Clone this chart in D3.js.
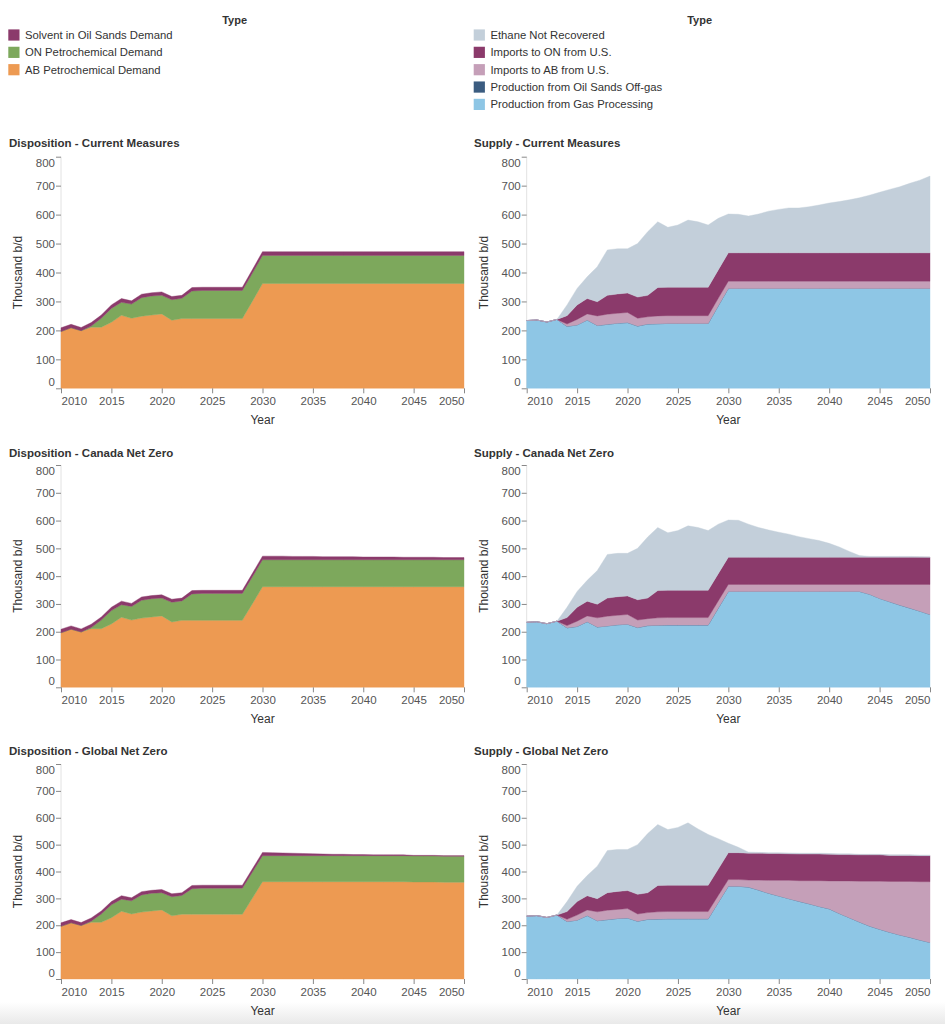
<!DOCTYPE html>
<html><head><meta charset="utf-8">
<script src="https://cdn.jsdelivr.net/npm/d3@7"></script>
<style>body{margin:0;background:#fff;font-family:"Liberation Sans",Arial,Helvetica,sans-serif}</style>
</head><body><svg id="c" width="945" height="1024"></svg>
<script>
// ---------- DATA ----------
const years = [2010,2011,2012,2013,2014,2015,2016,2017,2018,2019,2020,2021,2022,2023,2024,2025,2026,2027,2028,2029,2030,
  2031,2032,2033,2034,2035,2036,2037,2038,2039,2040,2041,2042,2043,2044,2045,2046,2047,2048,2049,2050];

const dispositionTypes = ["Solvent in Oil Sands Demand","ON Petrochemical Demand","AB Petrochemical Demand"];
const supplyTypes = ["Ethane Not Recovered","Imports to ON from U.S.","Imports to AB from U.S.","Production from Oil Sands Off-gas","Production from Gas Processing"];
const dispositionColors = ["#8b3a6b","#7da85c","#ed9a52"];
const supplyColors = ["#c3cfda","#8b3a6b","#c59fb8","#3b5c80","#8ec6e5"];
const xTicks = [2010,2015,2020,2025,2030,2035,2040,2045,2050];
const yTicks = [0,100,200,300,400,500,600,700,800];
const scenarios = ["Current Measures","Canada Net Zero","Global Net Zero"];

// Disposition - Current Measures
const dispCM_AB   = [196,209,199,211,211,228,252,242,249,253,257,235,241,241,241,241,241,241,241,301,362,362,362,362,362,362,362,362,362,362,362,362,362,362,362,362,362,362,362,362,362];
const dispCM_ON   = [0,0,0,4,31,48,45,49,64,66,64,71,70,95,97,97,97,97,97,97,97,97,97,97,97,97,97,97,97,97,97,97,97,97,97,97,97,97,97,97,97];
const dispCM_Solv = [13,12,11,12,11,12,13,11,12,11,12,11,10,12,11,11,11,11,11,12,13,13,13,13,13,13,13,13,13,13,13,13,13,13,13,13,13,13,13,13,13];
// Disposition - Canada Net Zero
const dispCNZ_AB   = [196,209,199,211,211,228,252,242,249,253,257,235,241,241,241,241,241,241,241,301,362,362,362,362,362,362,362,362,362,362,362,362,362,362,362,362,362,362,362,362,362];
const dispCNZ_ON   = [0,0,0,4,31,48,45,49,64,66,64,71,70,95,97,97,97,97,97,97,97,97,97,97,97,97,97,97,97,97,97,97,97,97,97,97,97,97,97,97,97];
const dispCNZ_Solv = [13,12,11,12,11,12,13,11,12,11,12,11,10,12,11,11,11,11,11,12,13,13,13,12,12,12,11,11,11,11,10,10,10,10,9,9,9,9,8,8,8];
// Disposition - Global Net Zero
const dispGNZ_AB   = [196,209,199,211,211,228,252,242,249,253,257,235,241,241,241,241,241,241,241,301,362,362,362,362,362,362,362,362,362,362,362,362,362,362,362,361,361,361,360,360,360];
const dispGNZ_ON   = [0,0,0,4,31,48,45,49,64,66,64,71,70,95,97,97,97,97,97,97,97,97,97,97,97,97,97,97,97,97,97,97,97,97,97,97,97,97,97,97,97];
const dispGNZ_Solv = [13,12,11,12,11,12,13,11,12,11,12,11,10,12,11,11,11,11,11,12,12,11,10,9,8,7,6,5,5,4,4,3,3,3,3,2,2,2,2,2,2];

// Supply - Current Measures
const supCM_GP  = [234,236,229,238,214,219,236,217,221,225,227,215,222,223,224,224,224,224,224,285,345,345,345,345,345,345,345,345,345,345,345,345,345,345,345,345,345,345,345,345,345];
const supCM_OSG = [0,0,0,0,0,0,0,0,0,0,0,0,0,0,0,0,0,0,0,0,0,0,0,0,0,0,0,0,0,0,0,0,0,0,0,0,0,0,0,0,0];
const supCM_AB  = [0,0,0,0,8,19,21,33,35,34,35,27,25,27,27,27,27,27,27,26,25,25,25,25,25,25,25,25,25,25,25,25,25,25,25,25,25,25,25,25,25];
const supCM_ON  = [0,0,0,0,29,50,53,49,65,67,67,73,74,98,98,98,98,98,98,98,98,98,98,98,98,98,98,98,98,98,98,98,98,98,98,98,98,98,98,98,98];
const supCM_NR  = [0,0,0,0,37,57,75,121,157,156,153,185,220,227,207,215,232,226,215,178,134,133,127,134,144,150,155,155,159,165,172,177,183,190,199,209,219,228,240,251,265];
// Supply - Canada Net Zero
const supCNZ_GP  = [234,236,229,238,214,219,236,217,221,225,227,215,222,223,224,224,224,224,224,285,345,345,345,345,345,345,345,345,345,345,345,345,345,345,335,320,308,296,285,274,262];
const supCNZ_OSG = [0,0,0,0,0,0,0,0,0,0,0,0,0,0,0,0,0,0,0,0,0,0,0,0,0,0,0,0,0,0,0,0,0,0,0,0,0,0,0,0,0];
const supCNZ_AB  = [0,0,0,0,8,19,21,33,35,34,35,27,25,27,27,27,27,27,27,26,25,25,25,25,25,25,25,25,25,25,25,25,25,25,35,50,62,74,85,96,108];
const supCNZ_ON  = [0,0,0,0,29,50,53,49,65,67,67,73,74,98,98,98,98,98,98,98,98,98,98,98,98,98,98,98,98,98,98,98,98,98,98,98,98,98,98,98,98];
const supCNZ_NR  = [0,0,0,0,37,57,75,121,157,156,153,185,220,227,207,215,232,226,215,178,134,133,119,107,98,90,83,74,67,60,50,37,21,6,3,3,3,3,3,2,1];
// Supply - Global Net Zero
const supGNZ_GP  = [234,236,229,238,214,219,236,217,221,225,227,215,222,223,224,224,224,224,224,285,345,345,342,331,319,309,299,289,280,270,261,244,228,212,197,185,174,164,155,145,136];
const supGNZ_OSG = [0,0,0,0,0,0,0,0,0,0,0,0,0,0,0,0,0,0,0,0,0,0,0,0,0,0,0,0,0,0,0,0,0,0,0,0,0,0,0,0,0];
const supGNZ_AB  = [0,0,0,0,8,19,21,33,35,34,35,27,25,27,27,27,27,27,27,26,25,25,26,37,48,58,68,77,86,96,104,121,137,152,167,179,189,199,208,217,226];
const supGNZ_ON  = [0,0,0,0,29,50,53,49,65,67,67,73,74,98,98,98,98,98,98,98,100,100,100,100,100,100,99,99,99,99,99,98,98,98,98,98,97,97,97,97,97];
const supGNZ_NR  = [0,0,0,0,37,57,75,121,157,156,153,185,220,227,207,215,232,209,189,113,35,20,4,3,3,3,3,3,3,3,3,3,3,2,2,2,2,2,2,2,2];

// ---------- LAYOUT ----------
const svg = d3.select("#c");
const rows = [
  {top:156.7, bottom:388.3, titleY:147},
  {top:465.0, bottom:687.3, titleY:456.7},
  {top:764.0, bottom:979.0, titleY:754.7}
];
const cols = [
  {x0:61,    x1:464, titleX:9,   yTitleX:18},
  {x0:526.7, x1:930, titleX:474, yTitleX:483.5}
];
const FONT = '"Liberation Sans",Arial,Helvetica,sans-serif';

// bottom shade like the reference
const defs = svg.append("defs");
const grad = defs.append("linearGradient").attr("id","shade").attr("x1",0).attr("x2",0).attr("y1",0).attr("y2",1);
grad.append("stop").attr("offset","0%").attr("stop-color","#ffffff");
grad.append("stop").attr("offset","100%").attr("stop-color","#e9e9e9");
svg.append("rect").attr("x",0).attr("y",1002).attr("width",945).attr("height",22).attr("fill","url(#shade)");

function legend(x, endX, types, colors) {
  const g = svg.append("g");
  g.append("text").attr("x", endX).attr("y", 24).attr("text-anchor","end")
    .attr("font-family",FONT).attr("font-size",11).attr("font-weight","bold").attr("fill","#333").text("Type");
  types.forEach((t,i)=>{
    const cy = 35 + i*17.35;
    g.append("rect").attr("x",x).attr("y",cy-5.6).attr("width",11.2).attr("height",11.2).attr("fill",colors[i]);
    g.append("text").attr("x",x+16.7).attr("y",cy+4).attr("font-family",FONT).attr("font-size",11.3)
      .attr("fill","#333").text(t);
  });
}
legend(8.3, 247, dispositionTypes, dispositionColors);
legend(473.7, 712, supplyTypes, supplyColors);

function panel(row, col, title, keys, colors, arrays) {
  const R = rows[row], C = cols[col];
  const x = d3.scaleLinear().domain([2010,2050]).range([C.x0, C.x1]);
  const y = d3.scaleLinear().domain([0,800]).range([R.bottom, R.top]);
  const table = years.map((yr,i)=>{
    const o = {year:yr};
    keys.forEach((k,j)=>{ o[k] = arrays[j][i]; });
    return o;
  });
  // stack bottom-up in reverse of legend order
  const order = keys.slice().reverse();
  const stacked = d3.stack().keys(order)(table);
  const area = d3.area().x(d=>x(d.data.year)).y0(d=>y(d[0])).y1(d=>y(d[1]));
  const g = svg.append("g");

  // y domain line (faint)
  g.append("line").attr("x1",C.x0).attr("x2",C.x0).attr("y1",R.top).attr("y2",R.bottom).attr("stroke","#e2e2e2");

  stacked.forEach(s=>{
    const ci = keys.indexOf(s.key);
    g.append("path").datum(s).attr("d",area).attr("fill",colors[ci])
      .attr("stroke",colors[ci]).attr("stroke-width",0.4);
  });

  // y axis
  const ya = g.append("g").attr("transform",`translate(${C.x0},0)`)
    .call(d3.axisLeft(y).tickValues(yTicks).tickSize(5).tickPadding(1));
  ya.select(".domain").remove();
  ya.selectAll(".tick line").attr("stroke","#888");
  ya.selectAll(".tick text").attr("font-family",FONT).attr("font-size",11.5).attr("fill","#555")
    .attr("dy",(d)=> d===0 ? "-0.25em" : d===800 ? "0.85em" : "0.32em");

  // x axis
  const xa = g.append("g").attr("transform",`translate(0,${R.bottom})`)
    .call(d3.axisBottom(x).tickValues(xTicks).tickFormat(d3.format("d")).tickSize(5).tickPadding(4));
  xa.select(".domain").remove();
  xa.selectAll(".tick line").attr("stroke","#888");
  xa.selectAll(".tick text").attr("font-family",FONT).attr("font-size",11.5).attr("fill","#555")
    .attr("text-anchor",(d)=> d===2010 ? "start" : d===2050 ? "end" : "middle");

  // titles
  g.append("text").attr("x",C.titleX).attr("y",R.titleY).attr("font-family",FONT).attr("font-size",11.5)
    .attr("font-weight","bold").attr("fill","#333").text(title);
  g.append("text").attr("x",(C.x0+C.x1)/2).attr("y",R.bottom+36).attr("text-anchor","middle")
    .attr("font-family",FONT).attr("font-size",12).attr("fill","#333").text("Year");
  const cy = (R.top+R.bottom)/2;
  g.append("text").attr("transform",`translate(${C.yTitleX+4},${cy}) rotate(-90)`).attr("text-anchor","middle")
    .attr("font-family",FONT).attr("font-size",12).attr("fill","#333").text("Thousand b/d");
}

const dispData = [
  [dispCM_Solv, dispCM_ON, dispCM_AB],
  [dispCNZ_Solv, dispCNZ_ON, dispCNZ_AB],
  [dispGNZ_Solv, dispGNZ_ON, dispGNZ_AB]
];
const supData = [
  [supCM_NR, supCM_ON, supCM_AB, supCM_OSG, supCM_GP],
  [supCNZ_NR, supCNZ_ON, supCNZ_AB, supCNZ_OSG, supCNZ_GP],
  [supGNZ_NR, supGNZ_ON, supGNZ_AB, supGNZ_OSG, supGNZ_GP]
];
scenarios.forEach((s,i)=>{
  panel(i, 0, "Disposition - " + s, dispositionTypes, dispositionColors, dispData[i]);
  panel(i, 1, "Supply - " + s, supplyTypes, supplyColors, supData[i]);
});
</script></body></html>
